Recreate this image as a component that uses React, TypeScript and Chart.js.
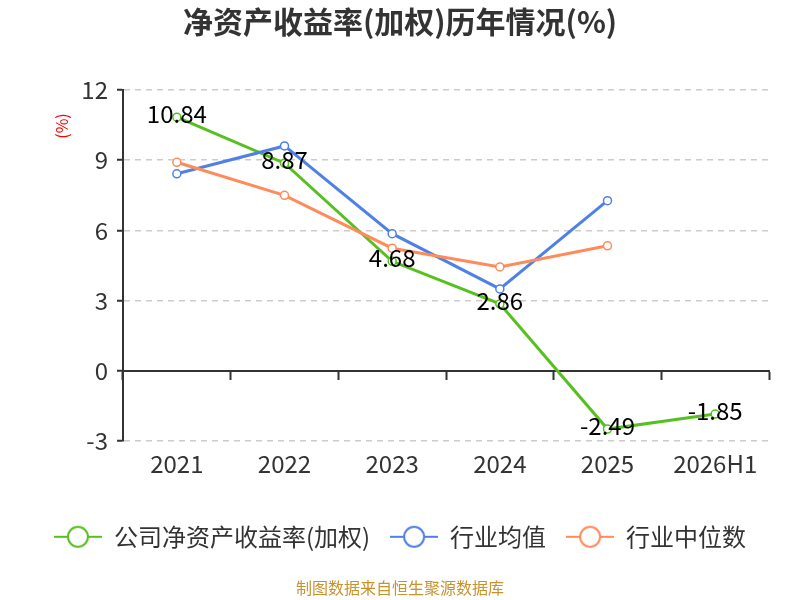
import React, { useEffect, useRef } from 'react';
import { Chart, registerables } from 'chart.js';

Chart.register(...registerables);

const categories = ['2021', '2022', '2023', '2024', '2025', '2026H1'];
const companyROE = [10.84, 8.87, 4.68, 2.86, -2.49, -1.85];
const industryMean = [8.42, 9.61, 5.86, 3.5, 7.27, null];
const industryMedian = [8.91, 7.5, 5.24, 4.44, 5.34, null];
const seriesNames = ['公司净资产收益率(加权)', '行业均值', '行业中位数'];
const seriesColors = ['#56C11E', '#4F80E6', '#FF8B5A'];
const yMin = -3;
const yMax = 12;
const yStep = 3;

const FONT = '"Noto Sans CJK SC", "Noto Sans", sans-serif';

function makeLegendIcon(color: string): HTMLCanvasElement {
  const c = document.createElement('canvas');
  c.width = 48;
  c.height = 24;
  const ctx = c.getContext('2d')!;
  ctx.strokeStyle = color;
  ctx.lineWidth = 2;
  ctx.beginPath();
  ctx.moveTo(0, 12);
  ctx.lineTo(48, 12);
  ctx.stroke();
  ctx.beginPath();
  ctx.arc(24, 12, 10, 0, Math.PI * 2);
  ctx.fillStyle = '#fff';
  ctx.fill();
  ctx.stroke();
  return c;
}

const dataLabelPlugin = {
  id: 'roeLabels',
  afterDatasetsDraw(chart: any) {
    const meta = chart.getDatasetMeta(0);
    const ctx = chart.ctx;
    ctx.save();
    ctx.font = `24px ${FONT}`;
    ctx.fillStyle = '#000';
    ctx.textAlign = 'center';
    ctx.textBaseline = 'middle';
    meta.data.forEach((pt: any, i: number) => {
      ctx.fillText(String(companyROE[i]), pt.x, pt.y - 3);
    });
    ctx.restore();
  },
};

const yTitlePlugin = {
  id: 'yTitle',
  afterDraw(chart: any) {
    const { ctx, chartArea } = chart;
    ctx.save();
    ctx.translate(chartArea.left - 61, chartArea.top + 36);
    ctx.rotate(-Math.PI / 2);
    ctx.font = `16px ${FONT}`;
    ctx.fillStyle = '#FF0000';
    ctx.textAlign = 'center';
    ctx.textBaseline = 'middle';
    ctx.fillText('(%)', 0, 0);
    ctx.restore();
  },
};

export default function App() {
  const ref = useRef<HTMLCanvasElement | null>(null);

  useEffect(() => {
    if (!ref.current) return;
    const icons = seriesColors.map(makeLegendIcon);
    const mk = (label: string, data: any[], color: string, order: number) => ({
      label,
      data,
      borderColor: color,
      backgroundColor: '#fff',
      borderWidth: 3,
      pointRadius: 4,
      pointBorderWidth: 1.5,
      pointBackgroundColor: '#fff',
      pointBorderColor: color,
      tension: 0,
      order,
    });
    const chart = new Chart(ref.current, {
      type: 'line',
      data: {
        labels: categories,
        datasets: [
          mk(seriesNames[0], companyROE, seriesColors[0], 3),
          mk(seriesNames[1], industryMean, seriesColors[1], 2),
          mk(seriesNames[2], industryMedian, seriesColors[2], 1),
        ],
      },
      options: {
        animation: false,
        responsive: true,
        maintainAspectRatio: false,
        layout: { padding: { left: 0, right: 0, top: 0, bottom: 0 } },
        scales: {
          x: {
            type: 'category',
            position: { y: 0 } as any,
            offset: true,
            grid: {
              display: true,
              offset: true,
              drawOnChartArea: false,
              drawTicks: true,
              tickLength: 8,
              tickColor: '#333',
              tickWidth: 2,
            },
            border: { display: true, color: '#333', width: 2 },
            ticks: { display: false },
          },
          x2: {
            type: 'category',
            position: 'bottom',
            labels: categories,
            offset: true,
            grid: { display: false, drawTicks: false },
            border: { display: false },
            ticks: {
              color: '#333',
              padding: 8,
              font: { family: FONT, size: 24 },
            },
            afterFit: (scale: any) => {
              scale.height += 19;
            },
          },
          y: {
            min: yMin,
            max: yMax,
            ticks: {
              stepSize: yStep,
              color: '#333',
              padding: 9,
              font: { family: FONT, size: 24 },
            },
            grid: {
              color: '#CCCCCC',
              lineWidth: 1.5,
              drawTicks: true,
              tickLength: 6,
              tickColor: '#333',
              tickWidth: 2,
            },
            border: { display: true, color: '#333', width: 2, dash: [6, 5] },
            afterFit: (scale: any) => {
              scale.width = 123;
            },
          },
          yRight: {
            type: 'linear',
            position: 'right',
            grid: { display: false, drawTicks: false },
            border: { display: false },
            ticks: { display: false },
            afterFit: (scale: any) => {
              scale.width = 31;
            },
          },
        },
        plugins: {
          title: {
            display: true,
            text: '净资产收益率(加权)历年情况(%)',
            color: '#333',
            font: { family: FONT, size: 30, weight: 'bold' },
            padding: { top: 4, bottom: 50 },
          },
          subtitle: {
            display: true,
            position: 'bottom',
            text: '制图数据来自恒生聚源数据库',
            color: '#C8922D',
            font: { family: FONT, size: 16 },
            padding: { top: 20, bottom: 2 },
          },
          legend: {
            display: true,
            position: 'bottom',
            labels: {
              usePointStyle: true,
              pointStyleWidth: 48,
              boxHeight: 24,
              padding: 20,
              color: '#333',
              font: { family: FONT, size: 24 },
              generateLabels: (c: any) =>
                c.data.datasets.map((ds: any, i: number) => ({
                  text: ds.label,
                  pointStyle: icons[i],
                  fillStyle: '#fff',
                  strokeStyle: ds.borderColor,
                  lineWidth: 0,
                  hidden: false,
                  datasetIndex: i,
                  fontColor: '#333',
                })),
            },
          },
          tooltip: { enabled: false },
        },
      },
      plugins: [dataLabelPlugin, yTitlePlugin],
    });
    return () => chart.destroy();
  }, []);

  return (
    <div style={{ position: 'fixed', left: 0, top: 0, width: 800, height: 600, background: '#fff' }}>
      <canvas ref={ref} />
    </div>
  );
}
